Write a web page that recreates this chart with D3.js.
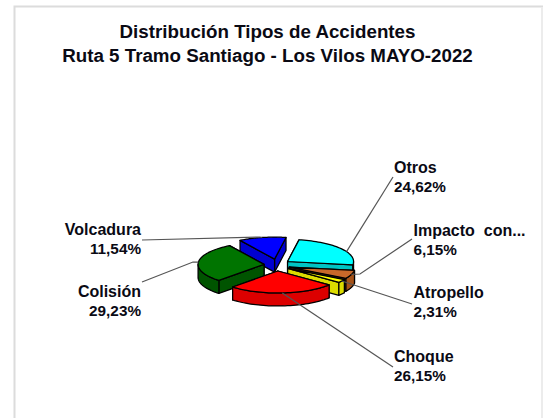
<!DOCTYPE html>
<html><head><meta charset="utf-8">
<script src="https://cdn.jsdelivr.net/npm/d3@7"></script>
<style>html,body{margin:0;padding:0;background:#fff}svg{display:block}text{font-family:"Liberation Sans",Arial,sans-serif;font-weight:bold;fill:#0a0a14}</style>
</head><body><script>
const categories=["Otros","Impacto  con...","Atropello","Choque","Colisión","Volcadura"];
const values=[24.62,6.15,2.31,26.15,29.23,11.54];
const valueLabels=["24,62%","6,15%","2,31%","26,15%","29,23%","11,54%"];
const topColors=["#00ffff","#c8682a","#ffff00","#ff0000","#007400","#0000ff"];
const sideColors=["#00c4c4","#a65218","#dcdc00","#dc0000","#005400","#0000d0"];
const titleLines=["Distribución Tipos de Accidentes","Ruta 5 Tramo Santiago - Los Vilos MAYO-2022"];
const W=543,H=418,cx=277,cy=265,rx=66,ry=22,depth=13,ex=13,ey=6;
const layout=[
 {x:394,y:173,anchor:"start",end:[393,177],elbow:null,turn:9},
 {x:413.5,y:236,anchor:"start",end:[412,239],elbow:[360,274],turn:0},
 {x:413.5,y:298,anchor:"start",end:[412,304],elbow:null,turn:0},
 {x:394,y:362,anchor:"start",end:[393,367],elbow:null,turn:0},
 {x:141,y:297,anchor:"end",end:[142,282],elbow:[193,262],turn:0},
 {x:141,y:235,anchor:"end",end:[142,240],elbow:[260,237],turn:0}
];
const svg=d3.select("body").append("svg").attr("width",W).attr("height",H);
svg.append("rect").attr("width",W).attr("height",H).attr("fill","#fff");
svg.append("path").attr("d",`M14.5 ${H}V6.5H${W}`).attr("fill","none").attr("stroke","#dcdcdc").attr("stroke-width",2);
svg.append("rect").attr("x",541).attr("y",7).attr("width",2).attr("height",H).attr("fill","#ececec");
svg.selectAll("text.title").data(titleLines).join("text").attr("class","title")
 .attr("x",267.5).attr("y",(d,i)=>38+i*23.5).attr("text-anchor","middle").attr("font-size",18.75).text(d=>d);
const pie=d3.pie().sort(null).startAngle(10*Math.PI/180).endAngle((360+10)*Math.PI/180);
const arcs=pie(values);
const line=d3.line();
const slices=arcs.map((a,i)=>{
 const m=(a.startAngle+a.endAngle)/2;
 const ox=cx+ex*Math.sin(m),oy=cy-ey*Math.cos(m);
 const P=t=>[ox+rx*Math.sin(t),oy-ry*Math.cos(t)];
 const samples=(s,e)=>d3.range(0,41).map(k=>P(s+(e-s)*k/40));
 return {i,a,m,ox,oy,P,samples};
});
const drop=p=>[p[0],p[1]+depth];
const faces=[];
slices.forEach(s=>{
 [s.a.startAngle,s.a.endAngle].forEach(t=>{
  const r=s.P(t),o=[s.ox,s.oy];
  faces.push({i:s.i,y:(r[1]+o[1])/2,d:line([o,r,drop(r),drop(o)])+"Z",c:sideColors[s.i]});
 });
 const lo=Math.PI/2,hi=3*Math.PI/2;
 const s0=Math.max(s.a.startAngle,lo),e0=Math.min(s.a.endAngle,hi);
 if(e0>s0){
  const pts=s.samples(s0,e0);
  faces.push({i:s.i,y:d3.mean(pts,p=>p[1])+ry,d:line(pts.concat(pts.slice().reverse().map(drop)))+"Z",c:sideColors[s.i]});
 }
 faces.push({i:s.i,y:s.oy+1000,top:true,d:line([[s.ox,s.oy]].concat(s.samples(s.a.startAngle,s.a.endAngle)))+"Z",c:topColors[s.i]});
});
const order=[5,4,0,1,2,3];
order.forEach(idx=>{
 const g=svg.append("g");
 g.selectAll("path").data(faces.filter(f=>f.i===idx).sort((p,q)=>p.y-q.y)).join("path")
  .attr("d",f=>f.d).attr("fill",f=>f.c).attr("stroke","#000").attr("stroke-width",1.25).attr("stroke-linejoin","round");
});
slices.forEach(s=>{
 const l=layout[s.i];
 const anchor=s.P(s.m+l.turn*Math.PI/180);
 const pts=[anchor];
 if(l.elbow)pts.push(l.elbow);
 pts.push(l.end);
 svg.append("path").attr("d",line(pts)).attr("fill","none").attr("stroke","#555").attr("stroke-width",1.2);
 const t=svg.append("text").attr("text-anchor",l.anchor);
 t.append("tspan").attr("x",l.x).attr("y",l.y).attr("font-size",16).style("white-space","pre").text(categories[s.i]);
 t.append("tspan").attr("x",l.x).attr("y",l.y+18.5).attr("font-size",15.3).text(valueLabels[s.i]);
});
</script></body></html>
